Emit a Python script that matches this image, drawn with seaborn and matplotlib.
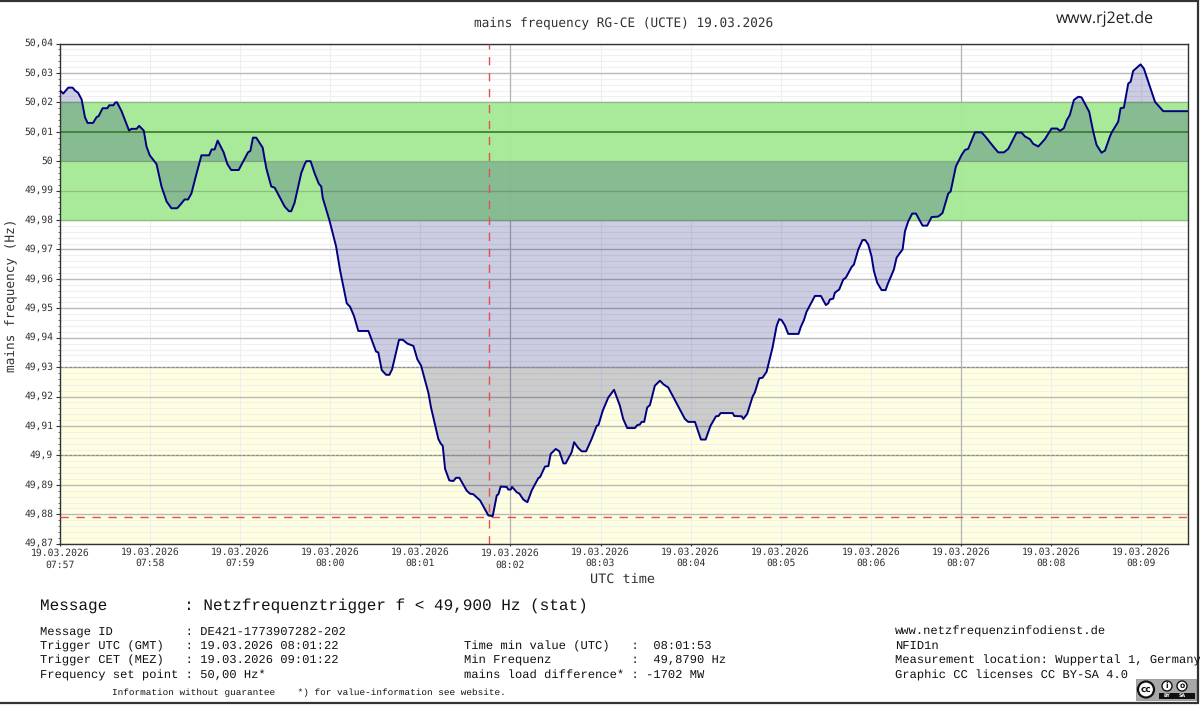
import matplotlib
matplotlib.use("Agg")
import matplotlib.pyplot as plt
import pandas as pd
import seaborn as sns
from matplotlib.lines import Line2D
from matplotlib.patches import Circle, Rectangle
from matplotlib.transforms import ScaledTranslation

# seconds after 07:57:00 and frequency in Hz
seconds = [
    0, 2.2, 5.5, 8.4, 10, 12, 14.4, 16.6, 18.4, 22, 24.4, 25.7, 28.4, 31.5, 32.8, 35.5, 37, 38,
    41, 44, 46, 47.6, 51, 52.7, 55.8, 57.6, 59.8, 64.3, 67.6, 71, 74.2, 78, 79.8, 83, 85.3, 87.5,
    90.9, 94.2, 99.3, 101, 103, 105, 109, 111.5, 114, 119, 125.2, 126.8, 128.5, 130.7, 135, 137.4,
    140.7, 143, 149.6, 152.5, 154, 156.2, 160.7, 163, 164, 166.9, 169.5, 172.4, 174, 175, 179.4,
    183.9, 186.5, 191, 193.2, 195.8, 198.7, 205.4, 210.5, 212, 214.3, 217.2, 219.4, 221.2, 225.8,
    228.3, 231.4, 235.4, 238, 240.5, 245.4, 247.1, 252, 253.6, 254.9, 256.5, 259.3, 262, 263.8,
    266, 270.9, 273.1, 275.3, 279.8, 285.3, 288.2, 290.9, 292, 293.5, 297.5, 298.6, 300.2, 301.1,
    304.2, 306, 308.6, 311.3, 314.2, 318.6, 319.7, 323, 325.3, 326.8, 330.2, 332.6, 335.3, 336.8,
    340.8, 342.4, 345.2, 347.5, 350.4, 354.1, 357.5, 358.6, 361.5, 365.2, 369, 372.9, 375.1, 377.8,
    382.9, 384.5, 386.2, 387.4, 389.1, 391.1, 392.9, 396.2, 399.6, 401.8, 405.1, 416.2, 418.4,
    422.9, 426.9, 430, 433.3, 436.9, 438.6, 440, 448, 449.1, 454, 455.1, 457.7, 461.3, 462.8,
    465.7, 467.9, 470.6, 474.6, 477.3, 479, 480.6, 482.8, 485, 491.9, 493.5, 495.5, 497.2, 502.8,
    506.8, 510.1, 511.7, 512.8, 515, 516.1, 519, 521.7, 523.4, 527.2, 528.8, 531.7, 534.5, 536.3,
    538.3, 540.5, 542.1, 544.3, 547.2, 549.9, 551.2, 555.4, 557.2, 559.4, 561.2, 562.8, 565, 567.6,
    570.1, 574.5, 577.6, 580.5, 585, 587.8, 591.6, 593.2, 596.7, 600.5, 602.7, 604.9, 609.4, 613.8,
    616, 621.6, 624.9, 628.7, 631.6, 637.1, 640.5, 642.7, 646, 648.2, 651.6, 656, 660.4, 664.2,
    666, 668.6, 670.4, 672.6, 675.3, 678.2, 680.4, 685.5, 688.2, 690.4, 693.7, 696, 699.3, 700.4,
    704.8, 706.4, 708.6, 711.5, 713.1, 714.8, 719.7, 721.9, 729.3, 734.8, 750.8,
]
freq = [
    50.024, 50.023, 50.025, 50.025, 50.024, 50.0233, 50.021, 50.015, 50.013, 50.013, 50.015, 50.0153,
    50.018, 50.018, 50.019, 50.019, 50.02, 50.02, 50.017, 50.013, 50.0104, 50.011, 50.011, 50.012,
    50.0104, 50.005, 50.002, 49.999, 49.9914, 49.9863, 49.984, 49.984, 49.985, 49.987, 49.987, 49.989,
    49.9957, 50.002, 50.002, 50.004, 50.004, 50.007, 50.003, 49.999, 49.997, 49.997, 50.003, 50.0035,
    50.008, 50.008, 50.0046, 49.9976, 49.9914, 49.991, 49.9846, 49.983, 49.983, 49.9858, 49.996,
    49.999, 50.0, 50.0, 49.996, 49.9923, 49.9914, 49.9875, 49.98, 49.971, 49.963, 49.9517, 49.9505,
    49.9474, 49.9423, 49.9423, 49.9353, 49.935, 49.929, 49.9274, 49.9274, 49.9293, 49.9393, 49.9393,
    49.938, 49.9372, 49.9327, 49.9305, 49.9212, 49.9163, 49.9056, 49.904, 49.9033, 49.8954, 49.8915,
    49.8913, 49.8924, 49.8924, 49.888, 49.887, 49.8868, 49.8847, 49.8796, 49.8794, 49.8864, 49.8868,
    49.8894, 49.8893, 49.8884, 49.8884, 49.8893, 49.8875, 49.887, 49.885, 49.8841, 49.8881, 49.8923,
    49.8926, 49.8962, 49.8964, 49.9005, 49.9022, 49.9014, 49.8973, 49.8973, 49.9011, 49.9045, 49.9025,
    49.9014, 49.9014, 49.9056, 49.9101, 49.9103, 49.9152, 49.9197, 49.9223, 49.9169, 49.9124, 49.9093,
    49.9093, 49.9103, 49.9105, 49.9114, 49.9114, 49.9163, 49.9171, 49.9237, 49.9254, 49.9242, 49.9231,
    49.9124, 49.9114, 49.9114, 49.9054, 49.9054, 49.9101, 49.9133, 49.9134, 49.9144, 49.9144, 49.9134,
    49.9133, 49.9124, 49.9141, 49.92, 49.9214, 49.9262, 49.9264, 49.9284, 49.9367, 49.944, 49.9463,
    49.946, 49.9442, 49.9413, 49.9413, 49.9438, 49.946, 49.9488, 49.9542, 49.9542, 49.9511, 49.9517,
    49.953, 49.9533, 49.9553, 49.9564, 49.9598, 49.9604, 49.964, 49.9649, 49.97, 49.9732, 49.9732,
    49.9717, 49.9677, 49.9627, 49.9587, 49.9562, 49.9562, 49.9581, 49.9632, 49.9672, 49.9688, 49.97,
    49.9762, 49.9796, 49.9822, 49.9822, 49.9781, 49.9781, 49.981, 49.9812, 49.9824, 49.989, 49.9897,
    49.9982, 50.0021, 50.0038, 50.0042, 50.0098, 50.0098, 50.0086, 50.005, 50.003, 50.003, 50.0042,
    50.0097, 50.0097, 50.0084, 50.0075, 50.0059, 50.005, 50.0075, 50.0111, 50.0111, 50.0103, 50.0112,
    50.0138, 50.0157, 50.0208, 50.0219, 50.0217, 50.0168, 50.01, 50.0055, 50.0029, 50.0036, 50.0084,
    50.0097, 50.0134, 50.018, 50.0182, 50.0264, 50.027, 50.0307, 50.0329, 50.0315, 50.0202, 50.017, 50.017,
]

minute_ticks = [0, 60, 120, 180, 240, 300, 360, 420, 480, 540, 600, 660, 720]
minute_labels = ["07:57", "07:58", "07:59", "08:00", "08:01", "08:02", "08:03",
                 "08:04", "08:05", "08:06", "08:07", "08:08", "08:09"]
date_label = "19.03.2026"
y_ticks = [49.87, 49.88, 49.89, 49.90, 49.91, 49.92, 49.93, 49.94, 49.95, 49.96,
           49.97, 49.98, 49.99, 50.0, 50.01, 50.02, 50.03, 50.04]
y_labels = ["49,87", "49,88", "49,89", "49,9", "49,91", "49,92", "49,93", "49,94", "49,95", "49,96",
            "49,97", "49,98", "49,99", "50", "50,01", "50,02", "50,03", "50,04"]
y_minor = [49.87 + 0.002 * i for i in range(86)]
trigger_time = 285.7
min_freq = 49.879

MONO = "DejaVu Sans Mono"
INFO = "Liberation Mono"
TEXT = "#333333"
RED = "#e84c50"

sns.set_theme(style="white")
plt.rcParams["font.family"] = MONO
plt.rcParams["text.hinting"] = "none"

W, H = 1200, 705
fig = plt.figure(figsize=(12, 7.05), dpi=100)
ax = fig.add_axes([60 / W, 1 - 543.7 / H, 1128 / W, 500.2 / H])

df = pd.DataFrame({"seconds": seconds, "freq": freq})

ax.axhspan(49.87, 49.93, color="#ffffe0", lw=0, zorder=0)
ax.hlines(y_minor, 0, 751.3, color="#f0f0ee", lw=0.8, zorder=1)
ax.vlines(minute_ticks, 49.87, 50.04, color="#eeeeee", lw=0.8, zorder=1)
ax.hlines(y_ticks, 0, 751.3, color="#bbbbbb", lw=1.0, zorder=1.2)
ax.vlines([300, 600], 49.87, 50.04, color="#b4b4b4", lw=0.9, zorder=1.2)
ax.axhspan(49.98, 50.02, color="#a6ea96", alpha=0.96, lw=0, zorder=1.5)
ax.hlines([49.98, 49.99, 50.0, 50.02], 0, 751.3, color="#8fbf80", lw=0.9, zorder=1.6)

ax.fill_between(seconds, freq, 50.0, color="#000070", alpha=0.2, lw=0, zorder=2)

ax.hlines(50.01, 0, 751.3, color="#3f7f2f", lw=1.3, zorder=2.5)
for level in [49.93, 49.90]:
    ax.hlines(level, 0, 751.3, color="#8a8a8a", lw=0.8, linestyles=(0, (2.5, 1.5)), zorder=2.5)
ax.hlines(min_freq, 0, 751.3, color=RED, lw=1.0, linestyles=(0, (6, 5.5)), zorder=2.6)
ax.vlines(trigger_time, 49.87, 50.04, color=RED, lw=1.0, linestyles=(0, (6, 5.5)), zorder=2.6)

sns.lineplot(data=df, x="seconds", y="freq", color="#000080", lw=1.4, errorbar=None, ax=ax, zorder=3)

ax.set_xlim(0, 751.3)
ax.set_ylim(49.87, 50.04)
ax.set_xticks(minute_ticks)
ax.set_xticklabels([f"{date_label}\n{m}" for m in minute_labels], fontsize=7.06, color=TEXT, linespacing=1.2)
ax.set_yticks(y_ticks)
ax.set_yticklabels(y_labels, fontsize=6.9, color=TEXT)
ax.set_yticks(y_minor, minor=True)
ax.tick_params(axis="both", which="major", length=1.5, width=0.8, color="#333333", pad=1, left=True, bottom=True)
ax.tick_params(axis="y", which="major", length=3, pad=2)
ax.tick_params(axis="y", which="minor", length=1.5, width=0.6, color="#555555", left=True)
for i in (0, 5):
    ax.get_xticklabels()[i].set_y(-0.003)
lift = ScaledTranslation(0, 1.5 / 100, fig.dpi_scale_trans)
for label in ax.get_yticklabels():
    label.set_transform(label.get_transform() + lift)
for spine in ax.spines.values():
    spine.set_color("#333333")
    spine.set_linewidth(1.0)
ax.set_xlabel("")
ax.set_ylabel("")


def px_text(x, y, s, **kw):
    fig.text(x / W, 1 - y / H, s, va="center", **kw)


px_text(624, 23.5, "mains frequency RG-CE (UCTE) 19.03.2026", ha="center", fontsize=9.2, color=TEXT)
px_text(1056, 19, "www.rj2et.de", fontsize=11.4, color="#222222", family="Open Sans")
px_text(623, 580, "UTC time", ha="center", fontsize=9.7, color=TEXT)
fig.text(12 / W, 1 - 295 / H, "mains frequency (Hz)", rotation=90, ha="center", va="center",
         fontsize=9.2, color=TEXT)

px_text(40, 606, "Message        : Netzfrequenztrigger f < 49,900 Hz (stat)", fontsize=11.5,
        family=INFO, color="#111111")
left_lines = ["Message ID          : DE421-1773907282-202",
              "Trigger UTC (GMT)   : 19.03.2026 08:01:22",
              "Trigger CET (MEZ)   : 19.03.2026 09:01:22",
              "Frequency set point : 50,00 Hz*"]
middle_lines = ["", "Time min value (UTC)   :  08:01:53",
                "Min Frequenz           :  49,8790 Hz",
                "mains load difference* : -1702 MW"]
right_lines = ["www.netzfrequenzinfodienst.de", "NFID1n",
               "Measurement location: Wuppertal 1, Germany",
               "Graphic CC licenses CC BY-SA 4.0"]
line_y = [631.5, 646, 660.5, 675]
for y, a, b, c in zip(line_y, left_lines, middle_lines, right_lines):
    px_text(40, y, a, fontsize=8.7, family=INFO, color="#111111")
    px_text(464, y, b, fontsize=8.7, family=INFO, color="#111111")
    px_text(895, y, c, fontsize=8.7, family=INFO, color="#111111")
px_text(112, 693, "Information without guarantee    *) for value-information see website.",
        fontsize=6.72, family=INFO, color="#111111")

# outer frame
frame = "#333333"
for xs, ys in [((0, W - 2), (0.5, 0.5)), ((W - 2, W - 2), (0, H - 2)), ((0, W - 2), (H - 2, H - 2))]:
    fig.add_artist(Line2D([x / W for x in xs], [1 - y / H for y in ys], color=frame, lw=1.6))

# CC badge
fig.add_artist(Rectangle((1136 / W, 1 - 700 / H), 60 / W, 21 / H, fc="#a8a8a8", ec="#888888", lw=0.5))
fig.add_artist(Rectangle((1159 / W, 1 - 699 / H), 36 / W, 6 / H, fc="#111111", ec="none"))
for cx, cy, r, lw in [(1146, 689.5, 8, 1.6), (1167, 686, 5, 1.0), (1182, 686, 5, 1.0)]:
    fig.add_artist(Circle((cx / 100, (H - cy) / 100), r / 100, transform=fig.dpi_scale_trans,
                          fc="white", ec="#111111", lw=lw))
px_text(1146, 689, "cc", ha="center", fontsize=6.5, fontweight="bold", color="#111111", family="DejaVu Sans", zorder=5)
px_text(1167, 686, "i", ha="center", fontsize=5.5, fontweight="bold", color="#111111", family="DejaVu Sans", zorder=5)
px_text(1182, 686, "o", ha="center", fontsize=5.5, fontweight="bold", color="#111111", family="DejaVu Sans", zorder=5)
px_text(1167, 696, "BY", ha="center", fontsize=3.4, fontweight="bold", color="white", family="DejaVu Sans", zorder=5)
px_text(1182, 696, "SA", ha="center", fontsize=3.4, fontweight="bold", color="white", family="DejaVu Sans", zorder=5)

fig.savefig("out.png", dpi=100)
